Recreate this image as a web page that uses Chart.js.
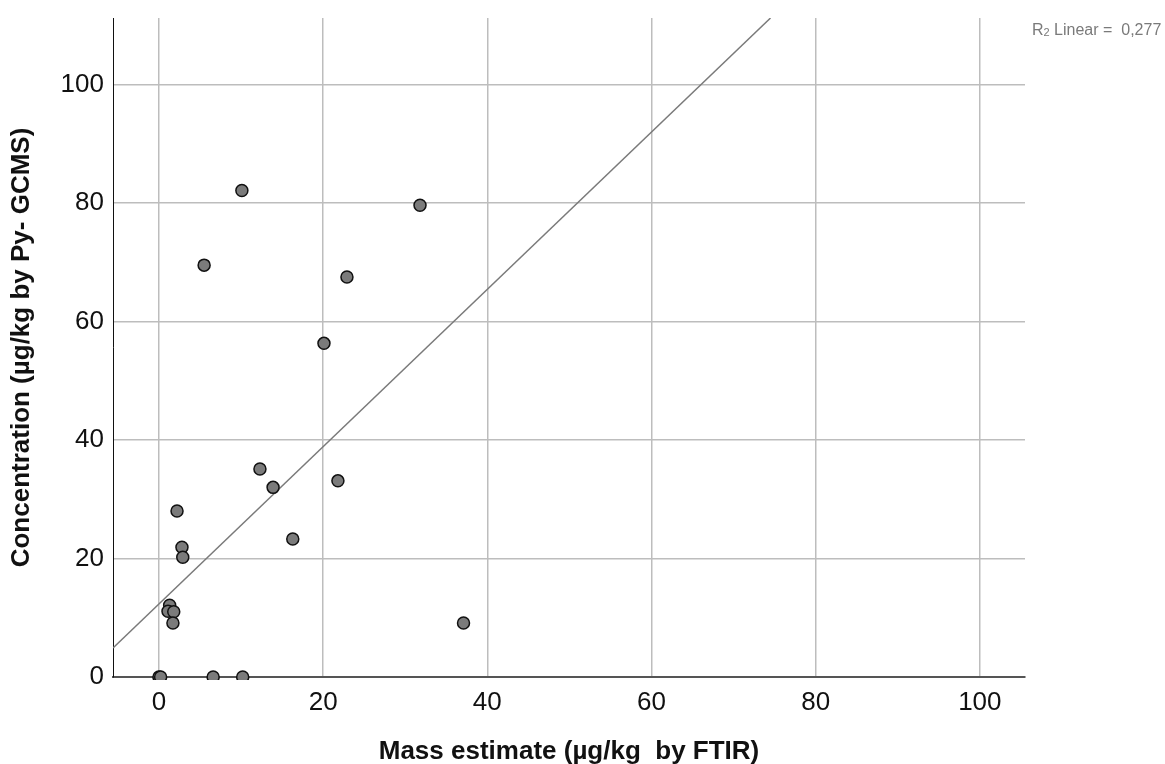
<!DOCTYPE html>
<html>
<head>
<meta charset="utf-8">
<title>FTIR vs Py-GCMS</title>
<script src="https://cdn.jsdelivr.net/npm/chart.js@4.4.1/dist/chart.umd.min.js"></script>
<style>
  html, body { margin: 0; padding: 0; background: #fff; }
  #wrap { width: 1165px; height: 764px; }
</style>
</head>
<body>
<div id="wrap"><canvas id="scatter" width="1165" height="764"></canvas></div>
<script>
// mass estimate by FTIR (x) and Py-GCMS concentration (y), µg/kg
var ftirMass = [10.1, 31.8, 5.5, 22.9, 20.1, 12.3, 13.9, 21.8, 16.3, 2.2, 2.8,
                2.9, 1.3, 1.1, 1.8, 1.7, 37.1, 0, 0.2, 6.6, 10.2];
var pyGcmsConc = [82.1, 79.6, 69.5, 67.5, 56.3, 35.1, 32.0, 33.1, 23.3, 28.0, 21.9,
                  20.2, 12.1, 11.1, 11.0, 9.1, 9.1, 0, 0, 0, 0];

// linear fit, drawn between the plot edges
var fitX = [-5.6, 74.5];
var fitY = [4.9, 111.2];
var fitLabel = ['R', '2', ' Linear =  0,277'];

var xTicks = [0, 20, 40, 60, 80, 100];
var yTicks = [0, 20, 40, 60, 80, 100];

var points = ftirMass.map(function (x, i) { return { x: x, y: pyGcmsConc[i] }; });
var fitLine = fitX.map(function (x, i) { return { x: x, y: fitY[i] }; });

var tickFont = { family: "'Liberation Sans', Arial, sans-serif", size: 26 };
var titleFont = { family: "'Liberation Sans', Arial, sans-serif", size: 26, weight: 'bold' };

// R2 note in the top right corner
var fitNote = {
  id: 'fitNote',
  afterDraw: function (chart) {
    var c = chart.ctx;
    c.save();
    c.fillStyle = '#7a7a7a';
    c.textBaseline = 'middle';
    var x = 1032, y = 31;
    c.font = "16px 'Liberation Sans', Arial, sans-serif";
    c.fillText(fitLabel[0], x, y);
    x += c.measureText(fitLabel[0]).width;
    c.font = "11px 'Liberation Sans', Arial, sans-serif";
    c.fillText(fitLabel[1], x, y + 2);
    x += c.measureText(fitLabel[1]).width;
    c.font = "16px 'Liberation Sans', Arial, sans-serif";
    c.fillText(fitLabel[2], x, y);
    c.restore();
  }
};

function keepTicks(list) {
  return function (scale) {
    scale.ticks = list.map(function (v) { return { value: v }; });
  };
}

new Chart(document.getElementById('scatter'), {
  type: 'scatter',
  data: {
    datasets: [{
      type: 'line',
      data: fitLine,
      borderColor: '#7a7a7a',
      borderWidth: 1.5,
      pointRadius: 0,
      fill: false,
      order: 2
    }, {
      data: points,
      backgroundColor: '#7b7b7b',
      borderColor: '#111',
      borderWidth: 1.5,
      pointRadius: 6,
      clip: 3,
      order: 1
    }]
  },
  options: {
    responsive: false,
    animation: false,
    layout: { padding: { top: 18, right: 140, left: 0, bottom: 0 } },
    plugins: {
      legend: { display: false },
      tooltip: { enabled: false }
    },
    scales: {
      x: {
        type: 'linear',
        min: -5.6,
        max: 105.5,
        afterBuildTicks: keepTicks(xTicks),
        afterFit: function (s) {
          s.height = 87;
          s.paddingLeft = 0;
          s.paddingRight = 0;
        },
        grid: { color: '#bdbdbd', lineWidth: 1.5, drawTicks: false },
        border: { color: '#555', width: 2 },
        ticks: { color: '#111', font: tickFont, padding: 10, maxRotation: 0 },
        title: {
          display: true,
          text: 'Mass estimate (µg/kg  by FTIR)',
          color: '#111',
          font: titleFont,
          padding: { top: 0, bottom: -3.5 }
        }
      },
      y: {
        type: 'linear',
        min: 0,
        max: 111.2,
        afterBuildTicks: keepTicks(yTicks),
        afterFit: function (s) {
          s.width = 113;
          s.paddingTop = 0;
          s.paddingBottom = 0;
        },
        grid: { color: '#bdbdbd', lineWidth: 1.5, drawTicks: false },
        border: { color: '#111', width: 1 },
        ticks: { color: '#111', font: tickFont, padding: 9 },
        title: {
          display: true,
          text: 'Concentration (µg/kg by Py- GCMS)',
          color: '#111',
          font: titleFont,
          padding: { top: 6.5, bottom: 0 }
        }
      }
    }
  },
  plugins: [fitNote]
});
</script>
</body>
</html>
